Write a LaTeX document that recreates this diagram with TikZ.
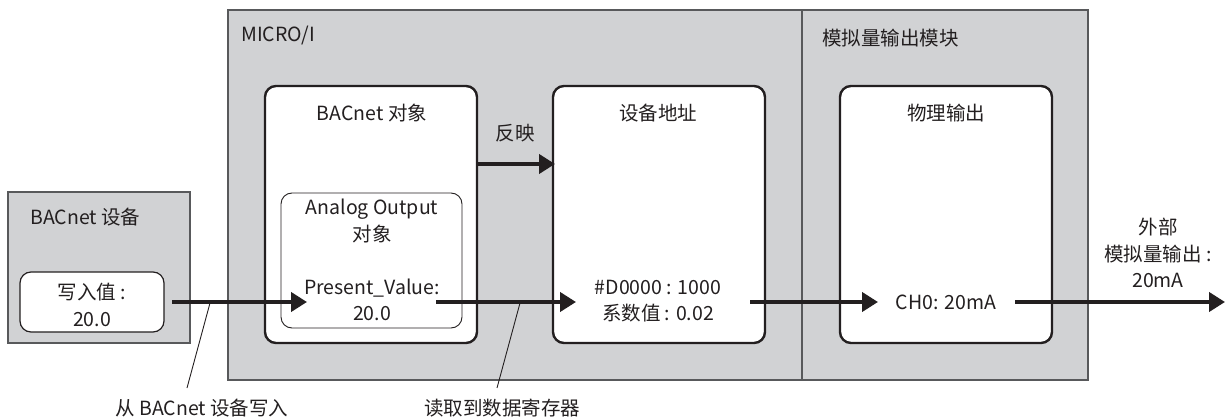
\documentclass[tikz,border=0pt]{standalone}
\usepackage{fontspec}
\setmainfont{Noto Sans CJK SC}
\usetikzlibrary{arrows.meta}
\definecolor{boxgray}{HTML}{D1D2D4}
\definecolor{edgegray}{HTML}{58595B}
\definecolor{ink}{HTML}{231F20}
\begin{document}
\begin{tikzpicture}[x=1pt,y=-1pt,
  every node/.style={font=\fontsize{19.5}{26.5}\selectfont, text=ink, inner sep=0pt, align=center},
  graybox/.style={draw=edgegray, fill=boxgray, line width=1.2pt},
  whitebox/.style={draw=ink, fill=white, line width=2.4pt, rounded corners=11pt},
  thinbox/.style={draw=ink, fill=white, line width=0.9pt, rounded corners=11pt},
  arr/.style={draw=ink, line width=4pt, -{Triangle[length=16pt,width=19pt]}},
  leader/.style={draw=ink, line width=0.9pt}]
\useasboundingbox (0,0) rectangle (1225,419);

% grey containers
\draw[graybox] (8,192) rectangle (190,343);
\draw[graybox] (228,10) rectangle (802,380);
\draw[graybox] (802,10) rectangle (1088,380);
\node[anchor=west] (devtitle) at (30,217) {BACnet 设备};
\node[anchor=west] (microtitle) at (241,36) {MICRO/I};
\node[anchor=west] (modtitle) at (822,38) {模拟量输出模块};

% write value box
\draw[thinbox, line width=1.2pt] (20,272) rectangle (164,332);
\node (wv) at (92,305) {写入值 :\\20.0};

% BACnet object
\draw[whitebox] (265,86) rectangle (477,343);
\node (bacobj) at (372,113) {BACnet 对象};
\draw[thinbox] (281,193) rectangle (462,328);
\node (ao) at (372,221) {Analog Output\\对象};
\node (pv) at (372,300) {Present\_Value:\\20.0};

% device address
\draw[whitebox] (553,86) rectangle (765,343);
\node (devaddr) at (658,113) {设备地址};
\node (dval) at (658,301) {\#D0000 : 1000\\系数值 : 0.02};

% physical output
\draw[whitebox] (840,86) rectangle (1052,343);
\node (phys) at (946,113) {物理输出};
\node (ch0) at (946,302) {CH0: 20mA};

% external label
\node (ext) at (1158,253) {外部\\模拟量输出 :\\20mA};

% reflect label
\node (refl) at (515,133) {反映};

% endpoint coordinates
\coordinate (a1s) at (172,302);
\coordinate (a1e) at (307,302);
\coordinate (a2s) at (477,164);
\coordinate (a2e) at (555,164);
\coordinate (a3s) at (436,302);
\coordinate (a3e) at (576,302);
\coordinate (a4s) at (750,302);
\coordinate (a4e) at (878,302);
\coordinate (a5s) at (1015,302);
\coordinate (a5e) at (1225,302);

\draw[arr] (a1s) -- (a1e);
\draw[arr] (a2s) -- (a2e);
\draw[arr] (a3s) -- (a3e);
\draw[arr] (a4s) -- (a4e);
\draw[arr] (a5s) -- (a5e);

% bottom labels with leaders
\node (lab1) at (202,408) {从 BACnet 设备写入};
\node (lab2) at (502,408) {读取到数据寄存器};
\coordinate (l1a) at (210,303);
\coordinate (l1b) at (187,388);
\coordinate (l2a) at (520,303);
\coordinate (l2b) at (497,388);
\draw[leader] (l1a) -- (l1b);
\draw[leader] (l2a) -- (l2b);
\end{tikzpicture}
\end{document}
